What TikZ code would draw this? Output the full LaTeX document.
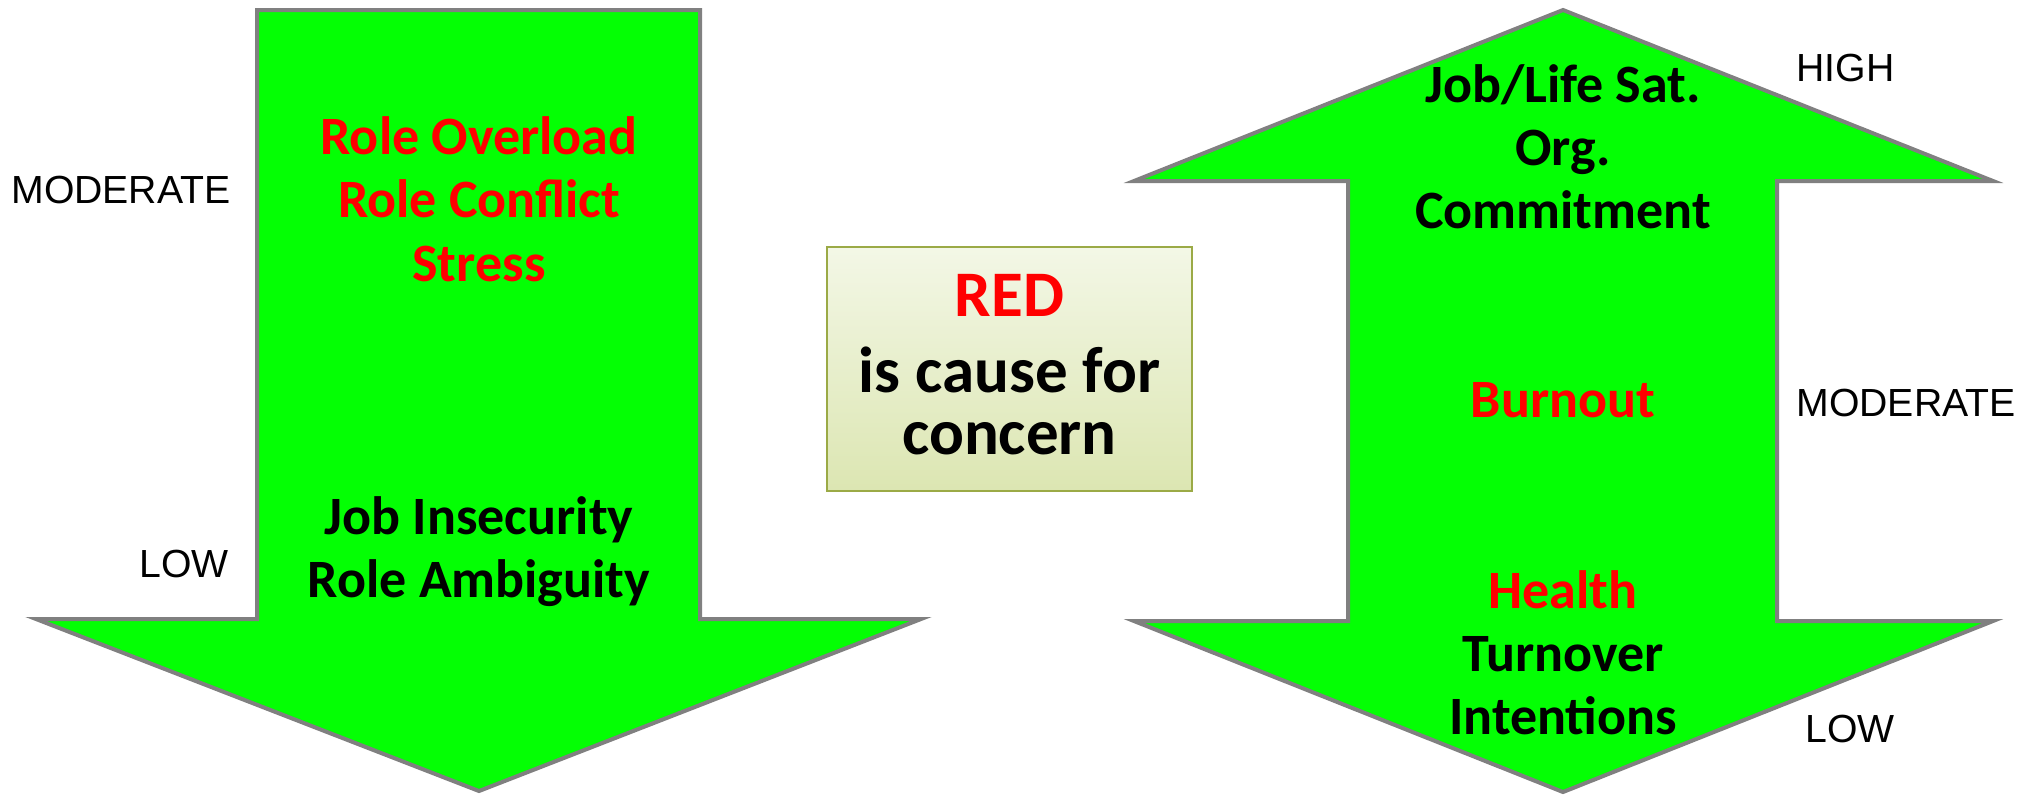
\documentclass[tikz,border=0pt]{standalone}
\usepackage{fontspec}
\setmainfont{Carlito}
\newfontfamily\labelfont{Liberation Sans}
\definecolor{agreen}{RGB}{4,255,4}
\definecolor{agray}{RGB}{128,128,128}
\definecolor{ared}{RGB}{255,0,0}
\definecolor{boxborder}{RGB}{155,170,70}
\definecolor{boxtop}{RGB}{243,247,230}
\definecolor{boxbot}{RGB}{220,230,178}
\begin{document}
\begin{tikzpicture}[x=0.5pt,y=-0.5pt,
  arrowshape/.style={fill=agreen, draw=agray, line width=2pt, line join=miter},
  itemtxt/.style={font=\bfseries\fontsize{27}{32}\selectfont, anchor=base, inner sep=0pt},
  boxtxt/.style={font=\bfseries\fontsize{32.5}{38}\selectfont, anchor=base, inner sep=0pt},
  lvlw/.style={font=\labelfont\fontsize{19.6}{24}\selectfont, anchor=base west, inner sep=0pt},
  lvle/.style={font=\labelfont\fontsize{19.6}{24}\selectfont, anchor=base east, inner sep=0pt},
]
\useasboundingbox (0,0) rectangle (2032,794);
% left down arrow
\draw[arrowshape] (257,10) -- (700,10) -- (700,619) -- (921,619) -- (479,791) -- (36,619) -- (257,619) -- cycle;
% right double arrow
\draw[arrowshape] (1563,10) -- (1993,181) -- (1777,181) -- (1777,621) -- (1993,621) -- (1563,792) -- (1134,621) -- (1348,621) -- (1348,181) -- (1134,181) -- cycle;
% legend box
\draw[draw=boxborder, line width=1.2pt, top color=boxtop, bottom color=boxbot] (827,247) rectangle (1192,491);

% left arrow texts
\node[itemtxt, text=ared] (ro) at (479,154) {Role Overload};
\node[itemtxt, text=ared] (rc) at (479,217) {Role Conflict};
\node[itemtxt, text=ared] (st) at (479,281) {Stress};
\node[itemtxt] (ji) at (479,534) {Job Insecurity};
\node[itemtxt] (ra) at (479,597) {Role Ambiguity};

% right arrow texts
\node[itemtxt] (js) at (1563,102) {Job/Life Sat.};
\node[itemtxt] (og) at (1563,165) {Org.};
\node[itemtxt] (cm) at (1563,228) {Commitment};
\node[itemtxt, text=ared] (bo) at (1563,417) {Burnout};
\node[itemtxt, text=ared] (he) at (1563,608) {Health};
\node[itemtxt] (tu) at (1563,671) {Turnover};
\node[itemtxt] (in) at (1563,734) {Intentions};

% box texts
\node[boxtxt, text=ared] (red) at (1009.5,316) {RED};
\node[boxtxt] (ic) at (1009.5,392) {is cause for};
\node[boxtxt] (cc) at (1009.5,454) {concern};

% level labels
\node[lvle] (lmod) at (231,203) {MODERATE};
\node[lvle] (llow) at (229,577) {LOW};
\node[lvlw] (rhigh) at (1796,81) {HIGH};
\node[lvlw] (rmod) at (1796,416) {MODERATE};
\node[lvlw] (rlow) at (1805,742) {LOW};
\end{tikzpicture}
\end{document}
